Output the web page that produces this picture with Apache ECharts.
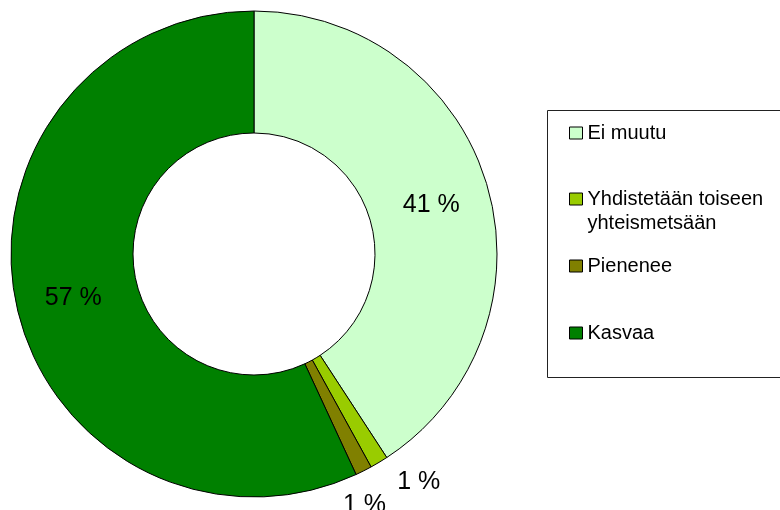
<!DOCTYPE html>
<html>
<head>
<meta charset="utf-8">
<script src="https://cdn.jsdelivr.net/npm/echarts@6/dist/echarts.min.js"></script>
<style>html,body{margin:0;padding:0;background:#fff;}#c{width:780px;height:510px;}</style>
</head>
<body>
<div id="c"></div>
<script>
const categories = ['Ei muutu', 'Yhdistetään toiseen yhteismetsään', 'Pienenee', 'Kasvaa'];
const values = [40.8, 1.2, 1.1, 56.9];
const colors = ['#CCFFCC', '#99CC00', '#808000', '#008000'];
const legendLabels = ['Ei muutu', '\nYhdistetään toiseen\nyhteismetsään', 'Pienenee', 'Kasvaa'];

const labelPlacement = [
  { position: 'inside' },
  { position: 'outside', length: 18, length2: 4 },
  { position: 'outside', length: 34, length2: -41 },
  { position: 'inside' }
];

const data = categories.map((name, i) => {
  const p = labelPlacement[i];
  const item = {
    name: name,
    value: values[i],
    itemStyle: { color: colors[i] },
    label: { position: p.position }
  };
  if (p.position === 'outside') {
    item.labelLine = { show: false, length: p.length, length2: p.length2 };
  }
  return item;
});

const legendTops = [121, 163, 254, 321];
const legends = categories.map((name, i) => ({
  data: [name],
  orient: 'vertical',
  left: 569,
  top: legendTops[i],
  padding: 0,
  icon: 'rect',
  itemWidth: 13,
  itemHeight: 12,
  selectedMode: false,
  formatter: () => legendLabels[i],
  textStyle: { fontFamily: 'Liberation Sans', fontSize: 20, lineHeight: 24, color: '#000' },
  itemStyle: { borderColor: '#000', borderWidth: 1 }
}));

const chart = echarts.init(document.getElementById('c'), null, { renderer: 'canvas' });
chart.setOption({
  animation: false,
  backgroundColor: '#fff',
  legend: legends,
  graphic: [{
    type: 'rect',
    shape: { x: 547.5, y: 110.5, width: 240, height: 267 },
    style: { fill: 'none', stroke: '#222', lineWidth: 1 },
    silent: true
  }],
  series: [{
    type: 'pie',
    center: [254, 254],
    radius: [121, 243],
    startAngle: 90,
    clockwise: true,
    avoidLabelOverlap: false,
    silent: true,
    itemStyle: { borderColor: '#000', borderWidth: 1 },
    label: {
      show: true,
      color: '#000',
      fontFamily: 'Liberation Sans',
      fontSize: 25,
      distanceToLabelLine: 5,
      formatter: (p) => Math.round(p.percent) + ' %'
    },
    labelLayout: () => ({ dy: 4 }),
    labelLine: { show: false },
    emphasis: { disabled: true },
    data: data
  }]
});
</script>
</body>
</html>
